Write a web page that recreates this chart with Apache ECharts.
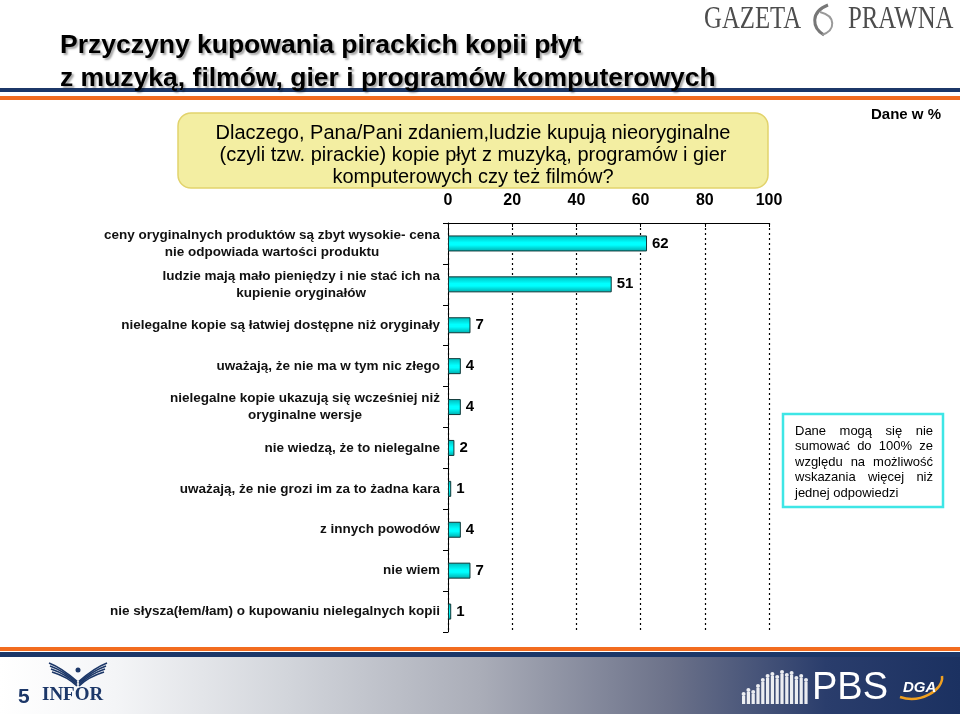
<!DOCTYPE html>
<html>
<head>
<meta charset="utf-8">
<script src="https://cdn.jsdelivr.net/npm/echarts@6/dist/echarts.min.js"></script>
<style>
html,body{margin:0;padding:0;background:#fff;}
#chart{width:960px;height:714px;}
</style>
</head>
<body>
<div id="chart"></div>
<script>
// ---- data ----
const categories = [
  'ceny oryginalnych produktów są zbyt wysokie- cena\nnie odpowiada wartości produktu',
  'ludzie mają mało pieniędzy i nie stać ich na\nkupienie oryginałów',
  'nielegalne kopie są łatwiej dostępne niż oryginały',
  'uważają, że nie ma w tym nic złego',
  'nielegalne kopie ukazują się wcześniej niż\noryginalne wersje',
  'nie wiedzą, że to nielegalne',
  'uważają, że nie grozi im za to żadna kara',
  'z innych powodów',
  'nie wiem',
  'nie słysza(łem/łam) o kupowaniu nielegalnych kopii'
];
const values = [62, 51, 7, 4, 4, 2, 1, 4, 7, 1];
const axisMin = 0, axisMax = 100, axisStep = 20;

const titleLines = [
  'Przyczyny kupowania pirackich kopii płyt',
  'z muzyką, filmów, gier i programów komputerowych'
];
const questionLines = [
  'Dlaczego, Pana/Pani zdaniem,ludzie kupują nieoryginalne',
  '(czyli tzw. pirackie) kopie płyt z muzyką, programów i gier',
  'komputerowych czy też filmów?'
];
const unitNote = 'Dane w %';
const sideNoteLines = [
  'Dane mogą się nie',
  'sumować do 100% ze',
  'względu na możliwość',
  'wskazania więcej niż',
  'jednej odpowiedzi'
];

// ---- helpers ----
const FONT = '"Liberation Sans", Arial, sans-serif';
const NAVY = '#1c3768';
const ORANGE = '#f26c1f';
const mctx = document.createElement('canvas').getContext('2d');
function measure(text, font) { mctx.font = font; return mctx.measureText(text).width; }

function justifiedLines(lines, left, right, y0, lh, fontSize) {
  const font = fontSize + 'px ' + FONT;
  const els = [];
  lines.forEach((line, i) => {
    const y = y0 + i * lh;
    const words = line.split(' ');
    if (i === lines.length - 1 || words.length < 2) {
      els.push({type:'text', x: left, y: y, style:{text: line, font: font, fill:'#000', textVerticalAlign:'middle', textAlign:'left'}});
      return;
    }
    const widths = words.map(w => measure(w, font));
    const total = widths.reduce((a,b)=>a+b,0);
    const gap = (right - left - total) / (words.length - 1);
    let x = left;
    words.forEach((w, k) => {
      els.push({type:'text', x: x, y: y, style:{text: w, font: font, fill:'#000', textVerticalAlign:'middle', textAlign:'left'}});
      x += widths[k] + gap;
    });
  });
  return els;
}

const chart = echarts.init(document.getElementById('chart'), null, {renderer:'canvas'});

const barColor = new echarts.graphic.LinearGradient(0, 0, 0, 1, [
  {offset: 0, color: '#00b9b9'},
  {offset: 0.45, color: '#00ffff'},
  {offset: 0.6, color: '#00ffff'},
  {offset: 1, color: '#00a9a9'}
]);

const footerGrad = new echarts.graphic.LinearGradient(0, 0, 1, 0, [
  {offset: 0, color: '#ffffff'},
  {offset: 0.12, color: '#f4f5f7'},
  {offset: 0.3, color: '#d2d5db'},
  {offset: 0.5, color: '#aaadb8'},
  {offset: 0.7, color: '#6b7189'},
  {offset: 0.86, color: '#2a3d6c'},
  {offset: 1, color: '#1b3161'}
]);

const titleShadow = {textShadowColor:'rgba(0,0,0,0.35)', textShadowOffsetX:2, textShadowOffsetY:2, textShadowBlur:2};

const graphics = [
  // header lines
  {type:'rect', shape:{x:0, y:88, width:960, height:4}, style:{fill:NAVY}, z:1},
  {type:'rect', shape:{x:0, y:96, width:960, height:4}, style:{fill:ORANGE}, z:1},
  // title
  {type:'text', x:60, y:46, z:5, style:Object.assign({text:titleLines[0], font:'bold 26.5px ' + FONT, fill:'#000', textVerticalAlign:'middle'}, titleShadow)},
  {type:'text', x:60, y:79, z:5, style:Object.assign({text:titleLines[1], font:'bold 26.5px ' + FONT, fill:'#000', textVerticalAlign:'middle'}, titleShadow)},
  // Gazeta Prawna logo
  {type:'text', x:704, y:20, scaleX:0.8, z:5, style:{text:'GAZETA', font:'31px "Liberation Serif", serif', fill:'#4d4d4d', textVerticalAlign:'middle'}},
  {type:'text', x:848, y:20, scaleX:0.8, z:5, style:{text:'PRAWNA', font:'31px "Liberation Serif", serif', fill:'#4d4d4d', textVerticalAlign:'middle'}},
  {type:'bezierCurve', z:5, shape:{x1:828, y1:5, cpx1:810, cpy1:12, cpx2:812, cpy2:28, x2:824, y2:35}, style:{stroke:'#777', lineWidth:3, fill:null}},
  {type:'bezierCurve', z:5, shape:{x1:820, y1:12, cpx1:836, cpy1:16, cpx2:836, cpy2:30, x2:822, y2:35}, style:{stroke:'#9a9a9a', lineWidth:2, fill:null}},
  // unit note
  {type:'text', x:941, y:115, z:5, style:{text:unitNote, font:'bold 15px ' + FONT, fill:'#000', textAlign:'right', textVerticalAlign:'middle'}},
  // question box
  {type:'rect', z:2, shape:{x:178, y:113, width:590, height:75, r:13}, style:{fill:'#f3eea2', stroke:'#e2d36c', lineWidth:1.5}},
  {type:'text', x:473, y:133, z:5, style:{text:questionLines[0], font:'20px ' + FONT, fill:'#000', textAlign:'center', textVerticalAlign:'middle'}},
  {type:'text', x:473, y:155, z:5, style:{text:questionLines[1], font:'20px ' + FONT, fill:'#000', textAlign:'center', textVerticalAlign:'middle'}},
  {type:'text', x:473, y:177, z:5, style:{text:questionLines[2], font:'20px ' + FONT, fill:'#000', textAlign:'center', textVerticalAlign:'middle'}},
  // side note box
  {type:'rect', z:2, shape:{x:783, y:414, width:160, height:93}, style:{fill:'#fff', stroke:'#3ee6e6', lineWidth:2.5}},
  // footer
  {type:'rect', shape:{x:0, y:647, width:960, height:4}, style:{fill:ORANGE}, z:1},
  {type:'rect', shape:{x:0, y:652, width:960, height:5}, style:{fill:NAVY}, z:1},
  {type:'rect', shape:{x:0, y:657, width:960, height:57}, style:{fill:footerGrad}, z:1},
  {type:'text', x:18, y:697, z:5, style:{text:'5', font:'bold 21px ' + FONT, fill:NAVY, textVerticalAlign:'middle'}},
  {type:'text', x:42, y:695, z:5, style:{text:'INFOR', font:'bold 19px "Liberation Serif", serif', fill:NAVY, textVerticalAlign:'middle'}},
  {type:'text', x:812, y:689, z:5, style:{text:'PBS', font:'38px ' + FONT, fill:'#ffffff', textVerticalAlign:'middle'}},
  {type:'text', x:903, y:688, z:5, style:{text:'DGA', font:'italic bold 15px ' + FONT, fill:'#ffffff', textVerticalAlign:'middle'}},
  {type:'bezierCurve', z:4, shape:{x1:900, y1:697, cpx1:920, cpy1:704, cpx2:944, cpy2:690, x2:942, y2:676}, style:{stroke:'#f0a020', lineWidth:2.5, fill:null}}
];
// INFOR wing strokes
for (let k = 0; k < 4; k++) {
  graphics.push({type:'bezierCurve', z:5, shape:{x1:77, y1:686 - k*1.5, cpx1:68 - k*2, cpy1:677 - k*3, x2:52 - k*1, y2:672 - k*3}, style:{stroke:NAVY, lineWidth:1.7, fill:null}});
  graphics.push({type:'bezierCurve', z:5, shape:{x1:79, y1:686 - k*1.5, cpx1:88 + k*2, cpy1:677 - k*3, x2:104 + k*1, y2:672 - k*3}, style:{stroke:NAVY, lineWidth:1.7, fill:null}});
}
graphics.push({type:'circle', z:5, shape:{cx:78, cy:670, r:2.5}, style:{fill:NAVY}});
// PBS silhouettes (small figures)
const figH = [8, 12, 10, 16, 22, 26, 28, 25, 30, 27, 29, 24, 26, 22];
figH.forEach((h, i) => {
  const x = 742 + i * 4.8;
  graphics.push({type:'rect', z:5, shape:{x:x, y:704 - h, width:3.2, height:h}, style:{fill:'#ffffff', opacity:0.9}});
  graphics.push({type:'circle', z:5, shape:{cx:x + 1.6, cy:704 - h - 2, r:2}, style:{fill:'#ffffff', opacity:0.9}});
});
// justified side note
justifiedLines(sideNoteLines, 795, 933, 431, 15.5, 13).forEach(e => { e.z = 6; graphics.push(e); });

const option = {
  animation: false,
  backgroundColor: '#ffffff',
  grid: {left: 448, right: 191, top: 223, bottom: 82, containLabel: false},
  xAxis: {
    type: 'value', position: 'top', min: axisMin, max: axisMax, interval: axisStep,
    axisLine: {show: true, lineStyle: {color: '#000', width: 1}},
    axisTick: {show: true, inside: true, length: 4, lineStyle: {color: '#000'}},
    axisLabel: {margin: 14, color: '#000', fontSize: 16, fontWeight: 'bold', fontFamily: FONT},
    splitLine: {show: true, lineStyle: {color: '#000', type: [2, 3], width: 1.2}}
  },
  yAxis: {
    type: 'category', inverse: true, data: categories,
    axisLine: {show: true, lineStyle: {color: '#000', width: 1}},
    axisTick: {show: true, length: 5, lineStyle: {color: '#000'}},
    axisLabel: {
      margin: 8, align: 'right',
      formatter: v => v.split('\n').map(l => '{c|' + l + '}').join('\n'),
      rich: {c: {fontSize: 13.5, fontWeight: 'bold', fontFamily: FONT, color: '#111', align: 'center', lineHeight: 17}}
    }
  },
  series: [{
    type: 'bar', data: values, barWidth: 16,
    itemStyle: {color: barColor, borderColor: '#103838', borderWidth: 1},
    label: {show: true, position: 'right', distance: 5, color: '#000', fontSize: 15, fontWeight: 'bold', fontFamily: FONT}
  }],
  graphic: graphics
};
chart.setOption(option);
</script>
</body>
</html>
